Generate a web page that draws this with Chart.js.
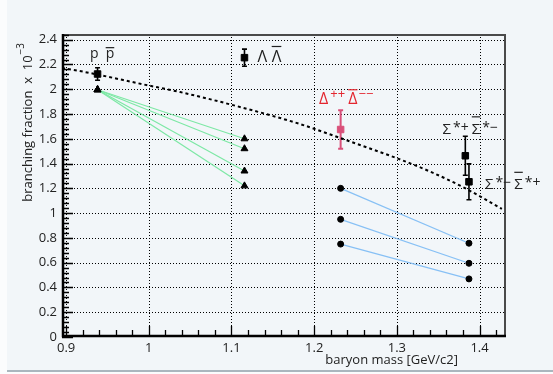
<!DOCTYPE html>
<html><head><meta charset="utf-8">
<script src="https://cdn.jsdelivr.net/npm/chart.js@4/dist/chart.umd.min.js"></script>
<style>html,body{margin:0;padding:0;background:#fff;}canvas{display:block;}</style>
</head><body>
<canvas id="c" width="553" height="374"></canvas>
<script>
// ---- data ----
const xTickValues = [0.9, 1.0, 1.1, 1.2, 1.3, 1.4];
const yTickValues = [0, 0.2, 0.4, 0.6, 0.8, 1.0, 1.2, 1.4, 1.6, 1.8, 2.0, 2.2, 2.4];
const particles = ['p p̄', 'Λ Λ̄', 'Δ++ Δ̄−−', 'Σ*+ Σ̄*−', 'Σ*− Σ̄*+'];
const masses = [0.938, 1.1157, 1.232, 1.3828, 1.3872];
const measured = [2.123, 2.255, 1.675, 1.463, 1.253];
const measuredErr = [0.05, 0.069, 0.155, 0.157, 0.145];
const pPrediction = 1.996;
const lambdaPredictions = [1.60, 1.52, 1.34, 1.22];
const deltaPredictions = [1.20, 0.95, 0.75];
const sigmaPredictions = [0.757, 0.595, 0.469];
const curveMass = [0.895, 0.9, 1.0, 1.038, 1.1, 1.183, 1.232, 1.302, 1.340, 1.380, 1.427];
const curveBF = [2.17, 2.166, 2.03, 1.977, 1.875, 1.719, 1.605, 1.438, 1.336, 1.21, 1.034];
// label anchors (data coords of left/baseline)
const labelAnchorX = [0.929, 1.1315, 1.2059, 1.3553, 1.4067];
const labelAnchorY = [2.255, 2.216, 1.879, 1.640, 1.197];

const FONT = '"Open Sans", "DejaVu Sans", sans-serif';
const GREEN = 'rgb(125,232,165)';
const BLUE = 'rgb(135,192,245)';
const RED_TXT = '#e3262f';
const RED_MK = '#d9507a';

// label rendering specs (styles only)
const labelSpecs = [
  {size: 14, color: '#222', over: 10, parts: [{t: 'p'}, {gap: 7}, {t: 'p', over: true}]},
  {size: 16, color: '#222', over: 16, parts: [{t: 'Λ'}, {gap: 4.5}, {t: 'Λ', over: true}]},
  {size: 16, color: RED_TXT, over: 14.5, parts: [{t: 'Δ'}, {gap: 2}, {t: '++', size: 13, raise: 6}, {gap: 3}, {t: 'Δ', over: true}, {gap: 1}, {t: '−−', size: 13, raise: 6}]},
  {size: 15, color: '#222', over: 17, parts: [{t: 'Σ'}, {gap: 2}, {t: '*+', size: 14, raise: 2}, {gap: 3}, {t: 'Σ', over: true}, {gap: 2}, {t: '*−', size: 14, raise: 2}]},
  {size: 15, color: '#222', over: 16.4, parts: [{t: 'Σ'}, {gap: 2}, {t: '*−', size: 14, raise: 2}, {gap: 3}, {t: 'Σ', over: true}, {gap: 2}, {t: '*+', size: 14, raise: 2}]}
];

function rich(ctx, x0, y0, spec) {
  let x = x0;
  ctx.fillStyle = spec.color;
  ctx.strokeStyle = spec.color;
  ctx.textAlign = 'left';
  ctx.textBaseline = 'alphabetic';
  for (const p of spec.parts) {
    if (p.gap) { x += p.gap; continue; }
    const size = p.size || spec.size;
    ctx.font = size + 'px ' + FONT;
    const w = ctx.measureText(p.t).width;
    ctx.fillText(p.t, x, y0 - (p.raise || 0));
    if (p.over) {
      ctx.lineWidth = 1.2;
      ctx.beginPath();
      ctx.moveTo(x, y0 - spec.over);
      ctx.lineTo(x + w, y0 - spec.over);
      ctx.stroke();
    }
    x += w;
  }
}

const datasets = [];
datasets.push({
  label: 'model', data: curveMass.map((m, i) => ({x: m, y: curveBF[i]})),
  showLine: true, borderColor: '#000', borderWidth: 2, borderDash: [3, 3],
  pointRadius: 0, cubicInterpolationMode: 'monotone', order: 5
});
lambdaPredictions.forEach((v, i) => datasets.push({
  label: 'lam' + i, data: [{x: masses[0], y: pPrediction}, {x: masses[1], y: v}],
  showLine: true, borderColor: GREEN, borderWidth: 1.2,
  pointStyle: 'triangle', pointRadius: 4, pointBackgroundColor: '#000', pointBorderColor: '#000', pointBorderWidth: 1, order: 4
}));
deltaPredictions.forEach((v, i) => datasets.push({
  label: 'del' + i, data: [{x: masses[2], y: v}, {x: masses[4], y: sigmaPredictions[i]}],
  showLine: true, borderColor: BLUE, borderWidth: 1.2,
  pointStyle: 'circle', pointRadius: 3, pointBackgroundColor: '#000', pointBorderColor: '#000', pointBorderWidth: 1, order: 4
}));
datasets.push({
  label: 'measured', data: [0, 1, 3, 4].map(i => ({x: masses[i], y: measured[i]})),
  showLine: false, pointStyle: 'rect', pointRadius: 4.6, pointBackgroundColor: '#000', pointBorderColor: '#000', pointBorderWidth: 1, order: 1
});
datasets.push({
  label: 'delta', data: [{x: masses[2], y: measured[2]}],
  showLine: false, pointStyle: 'rect', pointRadius: 4.6, pointBackgroundColor: RED_MK, pointBorderColor: RED_MK, pointBorderWidth: 1, order: 1
});

const decor = {
  id: 'decor',
  beforeDraw(chart) {
    const ctx = chart.ctx;
    ctx.save();
    ctx.fillStyle = '#fbfcfd';
    ctx.fillRect(0, 0, 553, 374);
    ctx.fillStyle = '#f2f6f9';
    ctx.fillRect(7, 0, 546, 370);
    ctx.fillStyle = '#aab6be';
    ctx.fillRect(7, 370, 546, 2);
    ctx.restore();
  },
  beforeDatasetsDraw(chart) {
    const ctx = chart.ctx, xs = chart.scales.x, ys = chart.scales.y, a = chart.chartArea;
    ctx.save();
    ctx.strokeStyle = '#000';
    ctx.lineWidth = 1;
    ctx.setLineDash([1, 2]);
    xTickValues.forEach(v => {
      const px = Math.round(xs.getPixelForValue(v)) + 0.5;
      ctx.beginPath(); ctx.moveTo(px, a.top); ctx.lineTo(px, a.bottom); ctx.stroke();
    });
    yTickValues.forEach(v => {
      if (v === 0) return;
      const py = Math.round(ys.getPixelForValue(v)) + 0.5;
      ctx.beginPath(); ctx.moveTo(a.left, py); ctx.lineTo(a.right, py); ctx.stroke();
    });
    ctx.setLineDash([]);
    // error bars
    measured.forEach((v, i) => {
      const col = i === 2 ? RED_MK : '#000';
      ctx.strokeStyle = col;
      ctx.lineWidth = i === 2 ? 2 : 1.6;
      const px = xs.getPixelForValue(masses[i]);
      const y1 = ys.getPixelForValue(v + measuredErr[i]);
      const y2 = ys.getPixelForValue(v - measuredErr[i]);
      ctx.beginPath();
      ctx.moveTo(px, y1); ctx.lineTo(px, y2);
      ctx.moveTo(px - 2.5, y1); ctx.lineTo(px + 2.5, y1);
      ctx.moveTo(px - 2.5, y2); ctx.lineTo(px + 2.5, y2);
      ctx.stroke();
    });
    ctx.restore();
  },
  afterDatasetsDraw(chart) {
    const ctx = chart.ctx, xs = chart.scales.x, ys = chart.scales.y, a = chart.chartArea;
    ctx.save();
    // frame top/right
    ctx.strokeStyle = '#4a4a4a';
    ctx.lineWidth = 2;
    ctx.beginPath();
    ctx.moveTo(a.left, a.top + 1); ctx.lineTo(a.right - 1, a.top + 1); ctx.lineTo(a.right - 1, a.bottom);
    ctx.stroke();
    // axes
    ctx.strokeStyle = '#000';
    ctx.lineWidth = 2.5;
    ctx.beginPath();
    ctx.moveTo(a.left + 1, a.top); ctx.lineTo(a.left + 1, a.bottom - 1); ctx.lineTo(a.right, a.bottom - 1);
    ctx.stroke();
    // ticks
    ctx.lineWidth = 1.3;
    ctx.beginPath();
    for (let k = 0; k * 0.04 <= 2.44; k++) {
      const v = k * 0.04;
      const py = Math.round(ys.getPixelForValue(v)) + 0.5;
      const len = (k % 5 === 0) ? 9 : 5;
      ctx.moveTo(a.left, py); ctx.lineTo(a.left + 2 + len, py);
    }
    for (let k = 0; 0.9 + k * 0.02 <= 1.432; k++) {
      const v = 0.9 + k * 0.02;
      const px = Math.round(xs.getPixelForValue(v)) + 0.5;
      const len = (k % 5 === 0) ? 9 : 5;
      ctx.moveTo(px, a.bottom); ctx.lineTo(px, a.bottom - 2 - len);
    }
    ctx.stroke();
    // particle labels
    labelSpecs.forEach((spec, i) => {
      rich(ctx, xs.getPixelForValue(labelAnchorX[i]), ys.getPixelForValue(labelAnchorY[i]), spec);
    });
    ctx.restore();
  },
  afterDraw(chart) {
    const ctx = chart.ctx;
    ctx.save();
    ctx.fillStyle = '#222';
    // x title
    ctx.font = '13px ' + FONT;
    ctx.textAlign = 'right';
    ctx.textBaseline = 'alphabetic';
    ctx.fillText('baryon mass [GeV/c2]', 458, 364);
    // y title
    ctx.translate(32, 43);
    ctx.rotate(-Math.PI / 2);
    ctx.font = '10px ' + FONT;
    const sup = '−3';
    const ws = ctx.measureText(sup).width;
    ctx.textAlign = 'right';
    ctx.fillText(sup, 0, -8);
    ctx.font = '13px ' + FONT;
    ctx.fillText('branching fraction  x  10', -ws - 1, 0);
    ctx.restore();
  }
};

const fmt = v => String(Number(Number(v).toFixed(2)));

new Chart(document.getElementById('c'), {
  type: 'scatter',
  data: {datasets},
  options: {
    responsive: false, animation: false,
    layout: {padding: {left: 0, top: 34, right: 47, bottom: 0}},
    plugins: {legend: {display: false}, tooltip: {enabled: false}},
    scales: {
      x: {
        type: 'linear', min: 0.895, max: 1.432,
        afterBuildTicks: s => { s.ticks = xTickValues.map(v => ({value: v})); },
        afterFit: s => { s.height = 37; },
        grid: {display: false, drawTicks: false}, border: {display: false},
        ticks: {callback: fmt, font: {size: 13, family: FONT}, color: '#222', padding: 3, maxRotation: 0, autoSkip: false}
      },
      y: {
        type: 'linear', min: 0, max: 2.446,
        afterBuildTicks: s => { s.ticks = yTickValues.map(v => ({value: v})); },
        afterFit: s => { s.width = 62; },
        grid: {display: false, drawTicks: false}, border: {display: false},
        ticks: {callback: fmt, font: {size: 13, family: FONT}, color: '#222', padding: 5, autoSkip: false}
      }
    }
  },
  plugins: [decor]
});
</script>
</body></html>
